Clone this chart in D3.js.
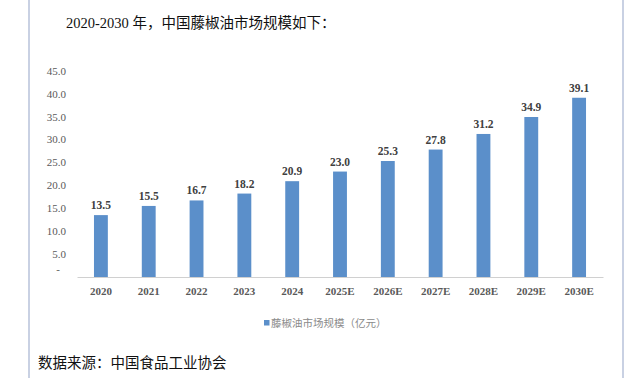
<!DOCTYPE html>
<html><head><meta charset="utf-8">
<script src="https://cdn.jsdelivr.net/npm/d3@7/dist/d3.min.js"></script>
<style>
html,body{margin:0;padding:0;background:#fff;}
svg{display:block;}
</style></head>
<body>
<svg id="c" width="640" height="378"></svg>
<script>
const categories = ["2020","2021","2022","2023","2024","2025E","2026E","2027E","2028E","2029E","2030E"];
const values = [13.5,15.5,16.7,18.2,20.9,23.0,25.3,27.8,31.2,34.9,39.1];
const yTicks = [0,5,10,15,20,25,30,35,40,45];
const seriesName = "藤椒油市场规模（亿元）";
const titleText = "2020-2030 年，中国藤椒油市场规模如下：";
const sourceText = "数据来源：中国食品工业协会";

const svg = d3.select("#c");
const serif = "'Liberation Serif','Noto Sans CJK SC',serif";
const cjk = "'Liberation Serif','Noto Sans CJK SC',sans-serif";

// page border lines
svg.append("line").attr("x1",29).attr("x2",29).attr("y1",0).attr("y2",378).attr("stroke","#b7c2da").attr("stroke-width",1.5);
svg.append("line").attr("x1",623).attr("x2",623).attr("y1",0).attr("y2",378).attr("stroke","#b7c2da").attr("stroke-width",1.5);

svg.append("text").attr("x",66).attr("y",28).attr("font-family",cjk).attr("font-size",14.5).attr("fill","#111").text(titleText);
svg.append("text").attr("x",38).attr("y",368).attr("font-family",cjk).attr("font-size",14.5).attr("fill","#111").text(sourceText);

const x = d3.scaleBand().domain(categories).range([77,603]).paddingInner(0.71).paddingOuter(0.355);
const y = d3.scaleLinear().domain([0,45]).range([277,70.7]);

// y axis labels
const ya = svg.append("g").attr("transform","translate(66,0)")
  .call(d3.axisLeft(y).tickValues(yTicks).tickSize(0).tickPadding(0)
    .tickFormat(d => d === 0 ? "-" : d3.format(".1f")(d)));
ya.select(".domain").remove();
ya.selectAll("text").attr("font-family",serif).attr("font-size",11).attr("fill","#595959");
ya.selectAll(".tick").filter(d=>d===0).select("text").attr("dy","-0.4em").attr("x",-6);

// bars
svg.append("g").selectAll("rect").data(values).join("rect")
  .attr("x",(d,i)=>x(categories[i])).attr("width",x.bandwidth())
  .attr("y",d=>y(d)).attr("height",d=>y(0)-y(d)).attr("fill","#5b8fca");

// x axis
const xa = svg.append("g").attr("transform",`translate(0,${y(0)})`)
  .call(d3.axisBottom(x).tickSize(0).tickPadding(10));
xa.select(".domain").attr("stroke","#d0d0d0").attr("stroke-width",1);
xa.selectAll("text").attr("font-family",serif).attr("font-size",11).attr("font-weight","bold").attr("fill","#595959");

// value labels
svg.append("g").selectAll("text").data(values).join("text")
  .attr("x",(d,i)=>x(categories[i])+x.bandwidth()/2).attr("y",d=>y(d)-6)
  .attr("text-anchor","middle").attr("font-family",serif).attr("font-size",11.5).attr("font-weight","bold").attr("fill","#404040")
  .text(d=>d3.format(".1f")(d));

// legend
const lg = svg.append("g").attr("transform","translate(264,323)");
lg.append("rect").attr("x",0).attr("y",-3).attr("width",5.5).attr("height",5.5).attr("fill","#5b8fca");
lg.append("text").attr("x",7).attr("y",4).attr("font-family",cjk).attr("font-size",10.5).attr("fill","#8a8a8a").text(seriesName);
</script>
</body></html>
